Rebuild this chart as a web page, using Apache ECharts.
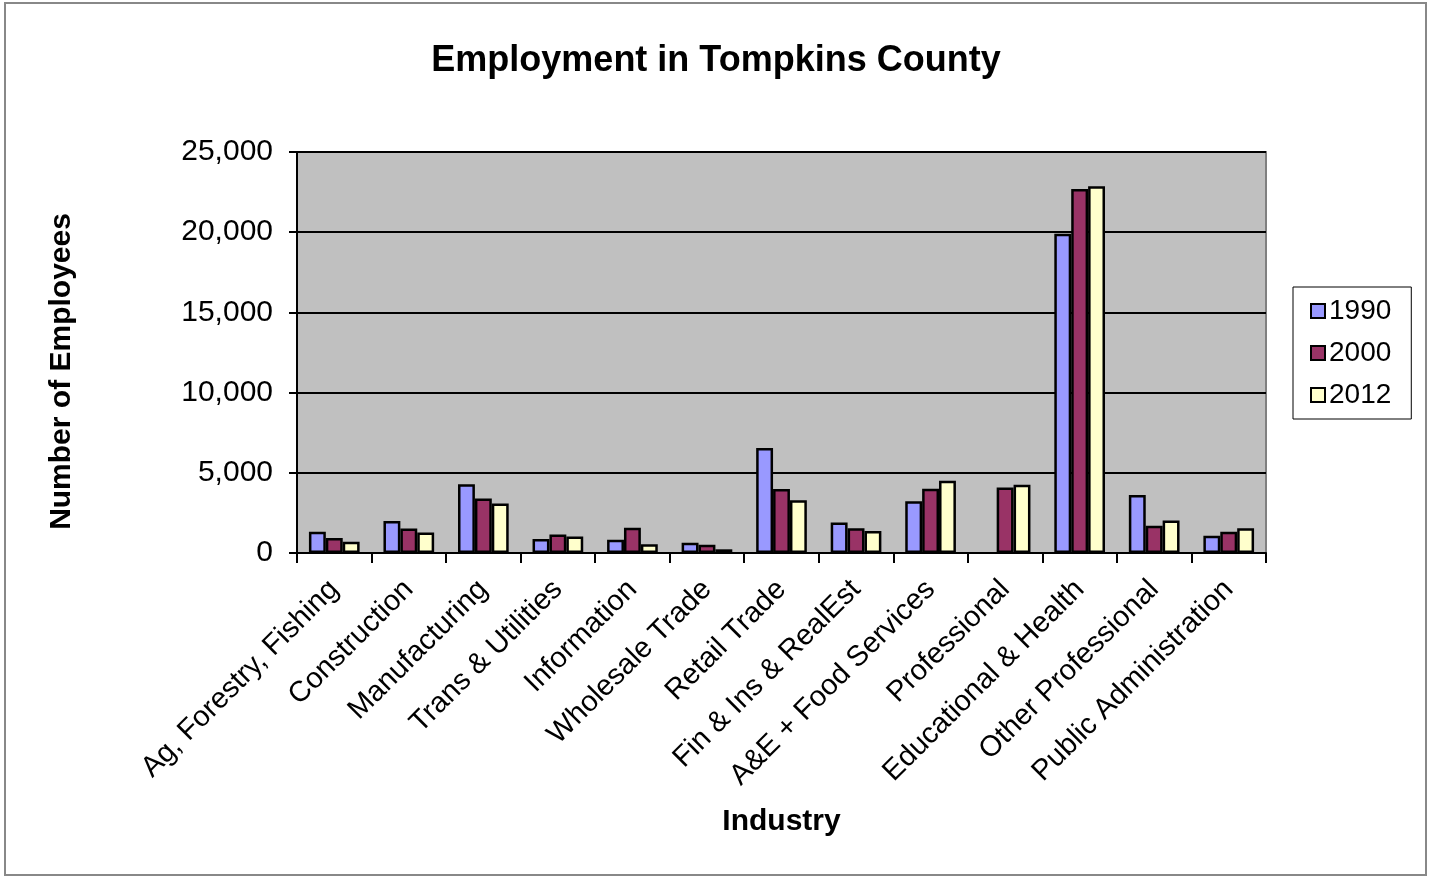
<!DOCTYPE html>
<html><head><meta charset="utf-8">
<script src="https://cdn.jsdelivr.net/npm/echarts@6/dist/echarts.min.js"></script>
<style>html,body{margin:0;padding:0;background:#fff}#c{width:1432px;height:877px}</style>
</head><body><div id="c"></div>
<script>
const categories = ["Ag, Forestry, Fishing","Construction","Manufacturing","Trans & Utilities","Information","Wholesale Trade","Retail Trade","Fin & Ins & RealEst","A&E + Food Services","Professional","Educational & Health","Other Professional","Public Administration"];
const y1990 = [1320, 2000, 4280, 870, 830, 640, 6540, 1900, 3220, null, 19900, 3610, 1080];
const y2000 = [930, 1530, 3390, 1160, 1570, 515, 3990, 1550, 4000, 4090, 22700, 1700, 1330];
const y2012 = [700, 1280, 3080, 1030, 540, 230, 3290, 1370, 4500, 4250, 22860, 2030, 1540];
const seriesNames = ["1990","2000","2012"];
const colors = ["#9999ff","#993366","#ffffcc"];
const yTicks = {min:0, max:25000, interval:5000};

const font = "Liberation Sans, Arial, sans-serif";
const chart = echarts.init(document.getElementById('c'));
const mk = (name, data, color) => ({
  name, type:'bar', data, barGap:'0%', barCategoryGap:'32%',
  itemStyle:{color, borderColor:'#000', borderWidth:2.5},
  emphasis:{disabled:true}
});
chart.setOption({
  animation:false,
  graphic:[{type:'rect', shape:{x:5,y:3,width:1421,height:872}, style:{fill:'none', stroke:'#888', lineWidth:2}}],
  title:{text:'Employment in Tompkins County', left:'center', top:38,
    textStyle:{fontFamily:font, fontSize:36, fontWeight:'bold', color:'#000'}},
  legend:{orient:'vertical', left:1293, top:287, padding:[10,20,10,17], itemGap:14,
    borderColor:'#000', borderWidth:1, itemWidth:14, itemHeight:14, icon:'rect',
    itemStyle:{borderColor:'#000', borderWidth:2},
    textStyle:{fontFamily:font, fontSize:28, color:'#000', padding:[0,0,0,-1]},
    data:seriesNames},
  grid:{left:297, top:152, width:969, height:401, show:true, backgroundColor:'#c0c0c0', borderColor:'#808080', borderWidth:2},
  xAxis:{type:'category', data:categories,
    name:'Industry', nameLocation:'middle', nameGap:254,
    nameTextStyle:{fontFamily:font, fontSize:30, fontWeight:'bold', color:'#000'},
    axisLine:{lineStyle:{color:'#000', width:2}},
    axisTick:{show:true, length:10, lineStyle:{color:'#000', width:2}},
    axisLabel:{rotate:45, fontFamily:font, fontSize:29, color:'#000', margin:32, interval:0}},
  yAxis:{type:'value', min:yTicks.min, max:yTicks.max, interval:yTicks.interval,
    name:'Number of Employees', nameLocation:'middle', nameGap:220,
    nameTextStyle:{fontFamily:font, fontSize:30, fontWeight:'bold', color:'#000', padding:[0,38,0,0]},
    axisLine:{show:true, lineStyle:{color:'#000', width:2}},
    axisTick:{show:true, length:8, lineStyle:{color:'#000', width:2}},
    splitLine:{lineStyle:{color:'#000', width:2}},
    axisLabel:{fontFamily:font, fontSize:30, color:'#000', margin:24,
      formatter:v=>v.toLocaleString('en-US')}},
  series:[mk(seriesNames[0], y1990, colors[0]), mk(seriesNames[1], y2000, colors[1]), mk(seriesNames[2], y2012, colors[2])]
});
</script></body></html>
